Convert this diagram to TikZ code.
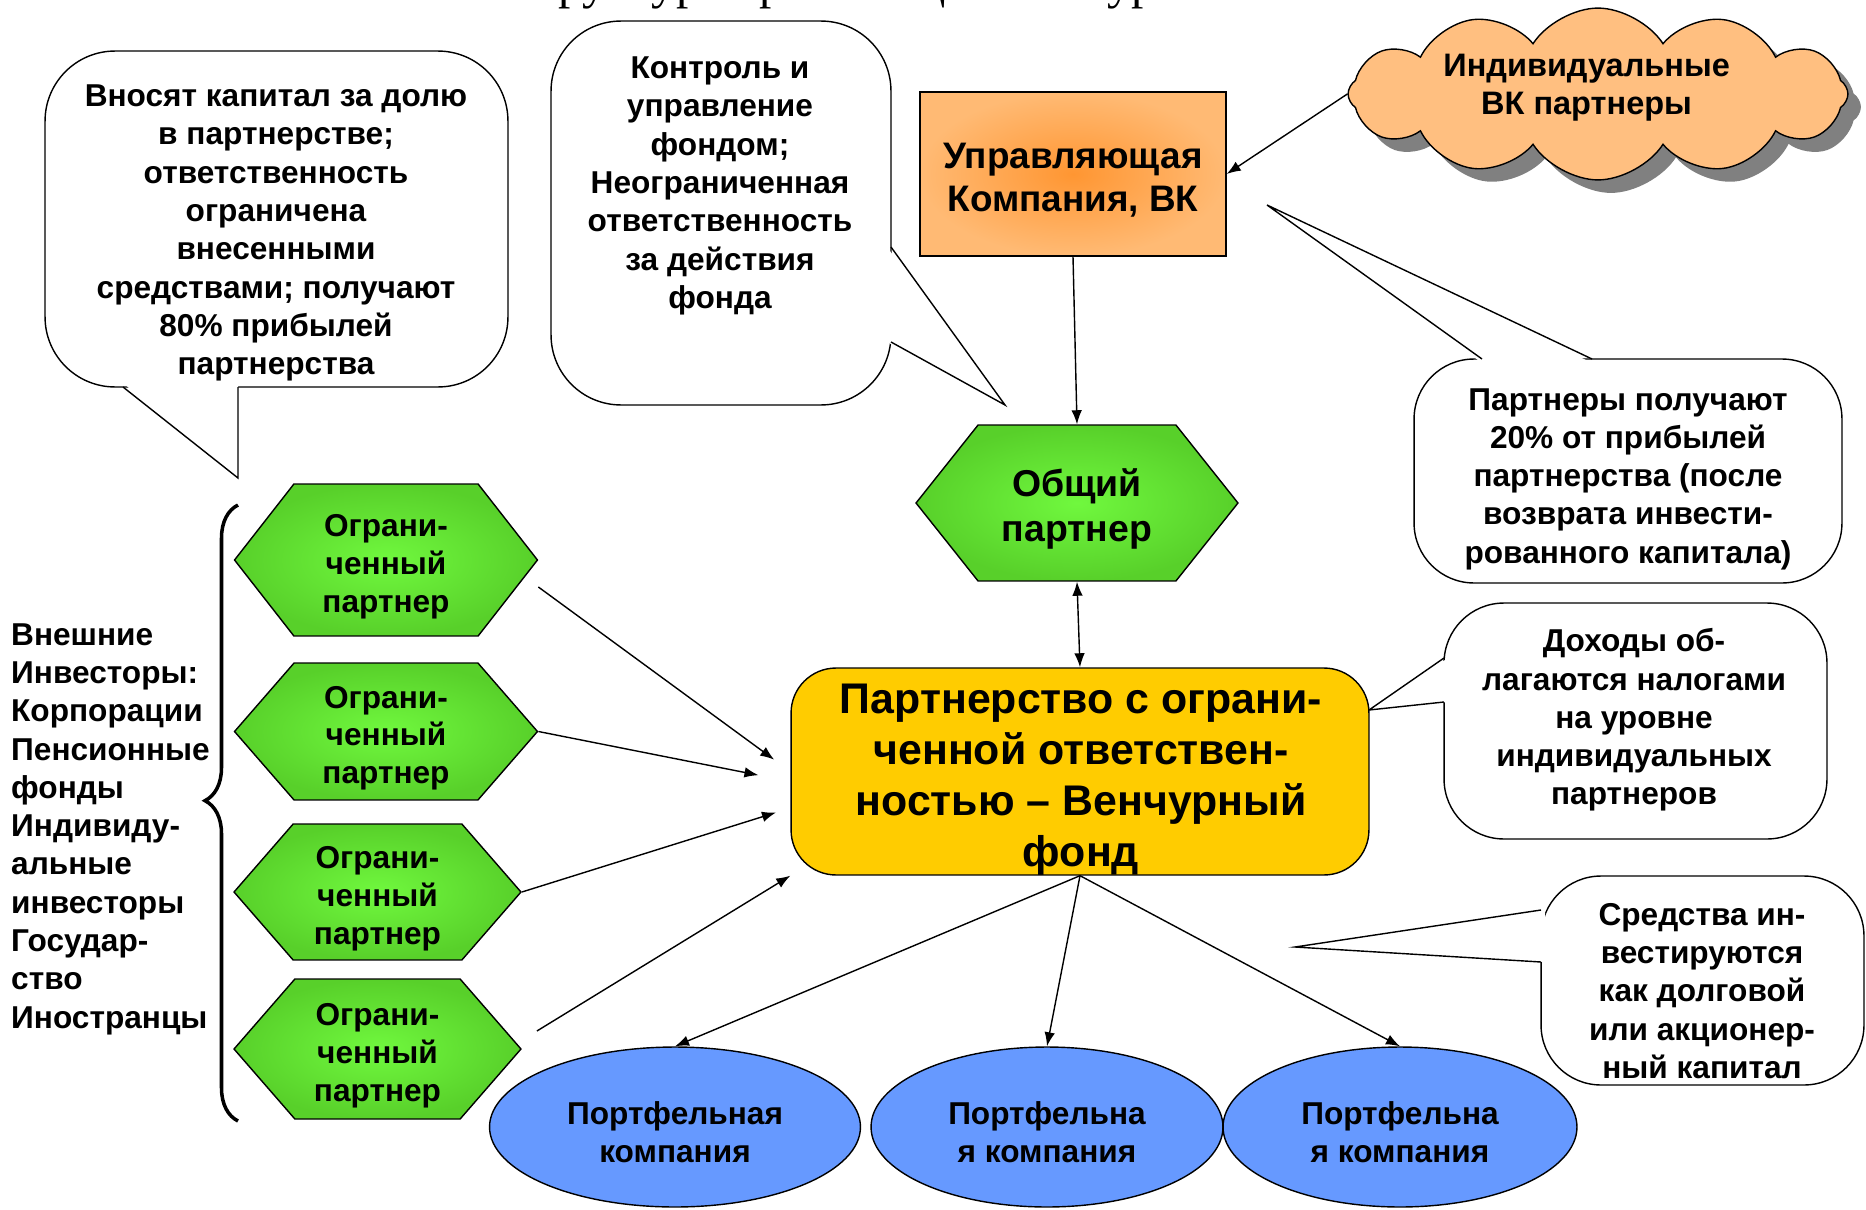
\documentclass[tikz,border=0pt]{standalone}
\usepackage{fontspec}
\setmainfont{Liberation Sans}
\newfontfamily\titlefont{Liberation Serif}
\usetikzlibrary{shapes.geometric, shapes.symbols, arrows.meta, shadows, decorations.pathreplacing}

\definecolor{lpgreen}{RGB}{112,248,62}
\definecolor{lpedge}{RGB}{88,208,42}
\definecolor{mgorange}{RGB}{255,150,50}
\definecolor{mgedge}{RGB}{255,186,116}
\definecolor{fundyellow}{RGB}{255,204,0}
\definecolor{pcblue}{RGB}{102,153,255}
\definecolor{cloudorange}{RGB}{255,191,128}

\newcommand{\txtlift}[1]{\rule{0pt}{#1}}

\tikzstyle{note} = [rectangle, rounded corners=1.3cm, draw=black, fill=white, line width=0.8pt]
\tikzstyle{notetext} = [align=center, font=\bfseries\fontsize{18}{21.8}\selectfont]
\tikzstyle{noteline} = [line width=0.8pt]
\tikzstyle{limited} = [signal, signal to=east and west, signal pointer angle=100, draw=black, line width=0.8pt, inner color=lpgreen, outer color=lpedge, align=center, inner sep=0pt, font=\bfseries\fontsize{18}{21.5}\selectfont]
\tikzstyle{company} = [ellipse, draw=black, line width=0.8pt, fill=pcblue, align=center, inner sep=0pt, minimum height=3.2cm, font=\bfseries\fontsize{18}{21.5}\selectfont]
\tikzstyle{arrow} = [line width=0.8pt, ->, >={Latex[length=8pt, width=6pt]}]

\begin{document}
\begin{tikzpicture}[x=0.02cm, y=-0.02cm]
\fill[white] (0,0) rectangle (1866,1210);
\useasboundingbox (0,0) rectangle (1866,1210);

% title, cut by the top edge
\node (title) [anchor=base, font=\titlefont\fontsize{28}{30}\selectfont] at (966,-1.5) {Структура организации венчурного бизнеса};

% callouts
\node (lpnote) [note, rounded corners=1.4cm, minimum width=9.26cm, minimum height=6.72cm] at (276.5,219) {};
\coordinate (lptip) at (238,478);
\fill[white] (123,383) -- (lptip) -- (238,383) -- cycle;
\draw[noteline] (123,387) -- (lptip) -- (238,387);
\node (lptext) [notetext] at (276,233) {Вносят капитал за долю\\в партнерстве;\\ответственность\\ограничена\\внесенными\\средствами; получают\\80\% прибылей\\партнерства};

\node (gpnote) [note, rounded corners=1.4cm, minimum width=6.8cm, minimum height=7.68cm] at (721,213) {};
\coordinate (gptip) at (1005,405);
\fill[white] (887,247) -- (gptip) -- (887,342) -- cycle;
\draw[noteline] (891,247) -- (gptip) -- (891,342);
\node (gptext) [notetext] at (720,186) {Контроль и\\управление\\фондом;\\Неограниченная\\ответственность\\за действия\\фонда};

\node (profitnote) [note, rounded corners=1.2cm, minimum width=8.56cm, minimum height=4.48cm] at (1628,471) {};
\coordinate (profittip) at (1267,205);
\fill[white] (1482,363) -- (profittip) -- (1592,363) -- cycle;
\draw[noteline] (1482,359) -- (profittip) -- (1592,359);
\node (profittext) [notetext] at (1628,479) {Партнеры получают\\20\% от прибылей\\партнерства (после\\возврата инвести-\\рованного капитала)};

\node (taxnote) [note, rounded corners=1.2cm, minimum width=7.66cm, minimum height=4.72cm] at (1635.5,721) {};
\coordinate (taxtip) at (1369,710);
\fill[white] (1448,658) -- (taxtip) -- (1448,702) -- cycle;
\draw[noteline] (1444,658) -- (taxtip) -- (1444,702);
\node (taxtext) [notetext] at (1634,720) {Доходы об-\\лагаются налогами\\на уровне\\индивидуальных\\партнеров};

\node (investnote) [note, rounded corners=1.2cm, minimum width=6.46cm, minimum height=4.18cm] at (1702.5,980.5) {};
\coordinate (investtip) at (1295,947);
\fill[white] (1545,910) -- (investtip) -- (1545,962) -- cycle;
\draw[noteline] (1541,910) -- (investtip) -- (1541,962);
\node (investtext) [notetext] at (1702,991) {Средства ин-\\вестируются\\как долговой\\или акционер-\\ный капитал};

% main blocks
\node (vkcloud) [cloud, cloud puffs=12, cloud puff arc=115, cloud ignores aspect, draw=black, line width=0.8pt, fill=cloudorange, minimum width=10cm, minimum height=3.05cm, inner sep=0pt, drop shadow={shadow xshift=0.26cm, shadow yshift=-0.26cm, fill=black!50, opacity=1}, align=center, font=\bfseries\fontsize{18.5}{22}\selectfont] at (1598,94) {Индивидуальные\kern13pt\\ВК партнеры\kern13pt\rule[-11pt]{0pt}{0pt}};

\node (mgmt) [rectangle, draw=black, line width=0.8pt, inner color=mgorange, outer color=mgedge, minimum width=6.12cm, minimum height=3.28cm, align=center, font=\bfseries\fontsize{21}{24.4}\selectfont] at (1073,174) {\txtlift{21.2pt}Управляющая\\Компания, ВК};

\node (gp) [limited, signal pointer angle=103, minimum width=6.44cm, minimum height=3.12cm, font=\bfseries\fontsize{21.3}{25.5}\selectfont] at (1077,503) {\txtlift{22.6pt}Общий\\партнер};

\node (fund) [rectangle, rounded corners=0.9cm, draw=black, line width=0.8pt, fill=fundyellow, minimum width=11.56cm, minimum height=4.14cm] at (1080,771.5) {};
\node (fundtext) [align=center, font=\bfseries\fontsize{24.4}{29}\selectfont] at (1081,780) {Партнерство с ограни-\\ченной ответствен-\\ностью – Венчурный\\фонд};

\node (lp1) [limited, signal pointer angle=104, minimum width=6.06cm, minimum height=3.04cm] at (386,560) {\txtlift{20pt}Ограни-\\ченный\\партнер};
\node (lp2) [limited, signal pointer angle=98, minimum width=6.06cm, minimum height=2.74cm] at (386,731.5) {\txtlift{20pt}Ограни-\\ченный\\партнер};
\node (lp3) [limited, signal pointer angle=98, minimum width=5.74cm, minimum height=2.72cm] at (377.5,892) {\txtlift{20pt}Ограни-\\ченный\\партнер};
\node (lp4) [limited, signal pointer angle=98, minimum width=5.74cm, minimum height=2.8cm] at (377.5,1049) {\txtlift{20pt}Ограни-\\ченный\\партнер};

\node (pc1) [company, minimum width=7.42cm] at (675,1127) {\txtlift{19pt}Портфельная\\компания};
\node (pc2) [company, minimum width=7.04cm] at (1047,1127) {\txtlift{19pt}Портфельна\\я компания};
\node (pc3) [company, minimum width=7.08cm] at (1400,1127) {\txtlift{19pt}Портфельна\\я компания};

% investors and brace
\node (investors) [anchor=west, align=left, font=\bfseries\fontsize{18}{21.8}\selectfont] at (5,829) {Внешние\\Инвесторы:\\Корпорации\\Пенсионные\\фонды\\Индивиду-\\альные\\инвесторы\\Государ-\\ство\\Иностранцы};
\coordinate (bracebot) at (238,1121);
\coordinate (bracetop) at (238,505);
\draw [decorate, decoration={brace, amplitude=0.66cm, aspect=0.52}, line width=2pt] (bracebot) -- (bracetop);

% connectors
\draw [arrow] (vkcloud.west) -- (mgmt.east);
\draw [arrow] (mgmt.south) -- (gp.north);
\draw [arrow, <->] (gp.south) -- (fund.north);
\draw [arrow, shorten >=0.4cm] ([yshift=-0.54cm]lp1.east) -- (fund.west);
\draw [arrow, shorten >=0.65cm] (lp2.east) -- ([yshift=-0.2cm]fund.west);
\draw [arrow, shorten >=0.3cm] (lp3.east) -- ([yshift=-0.73cm]fund.west);
\draw [arrow] ([yshift=0.36cm, xshift=0.3cm]lp4.east) -- (fund.south west);
\draw [arrow] (fund.south) -- (pc1.north);
\draw [arrow] (fund.south) -- (pc2.north);
\draw [arrow] (fund.south) -- (pc3.north);

\end{tikzpicture}
\end{document}
